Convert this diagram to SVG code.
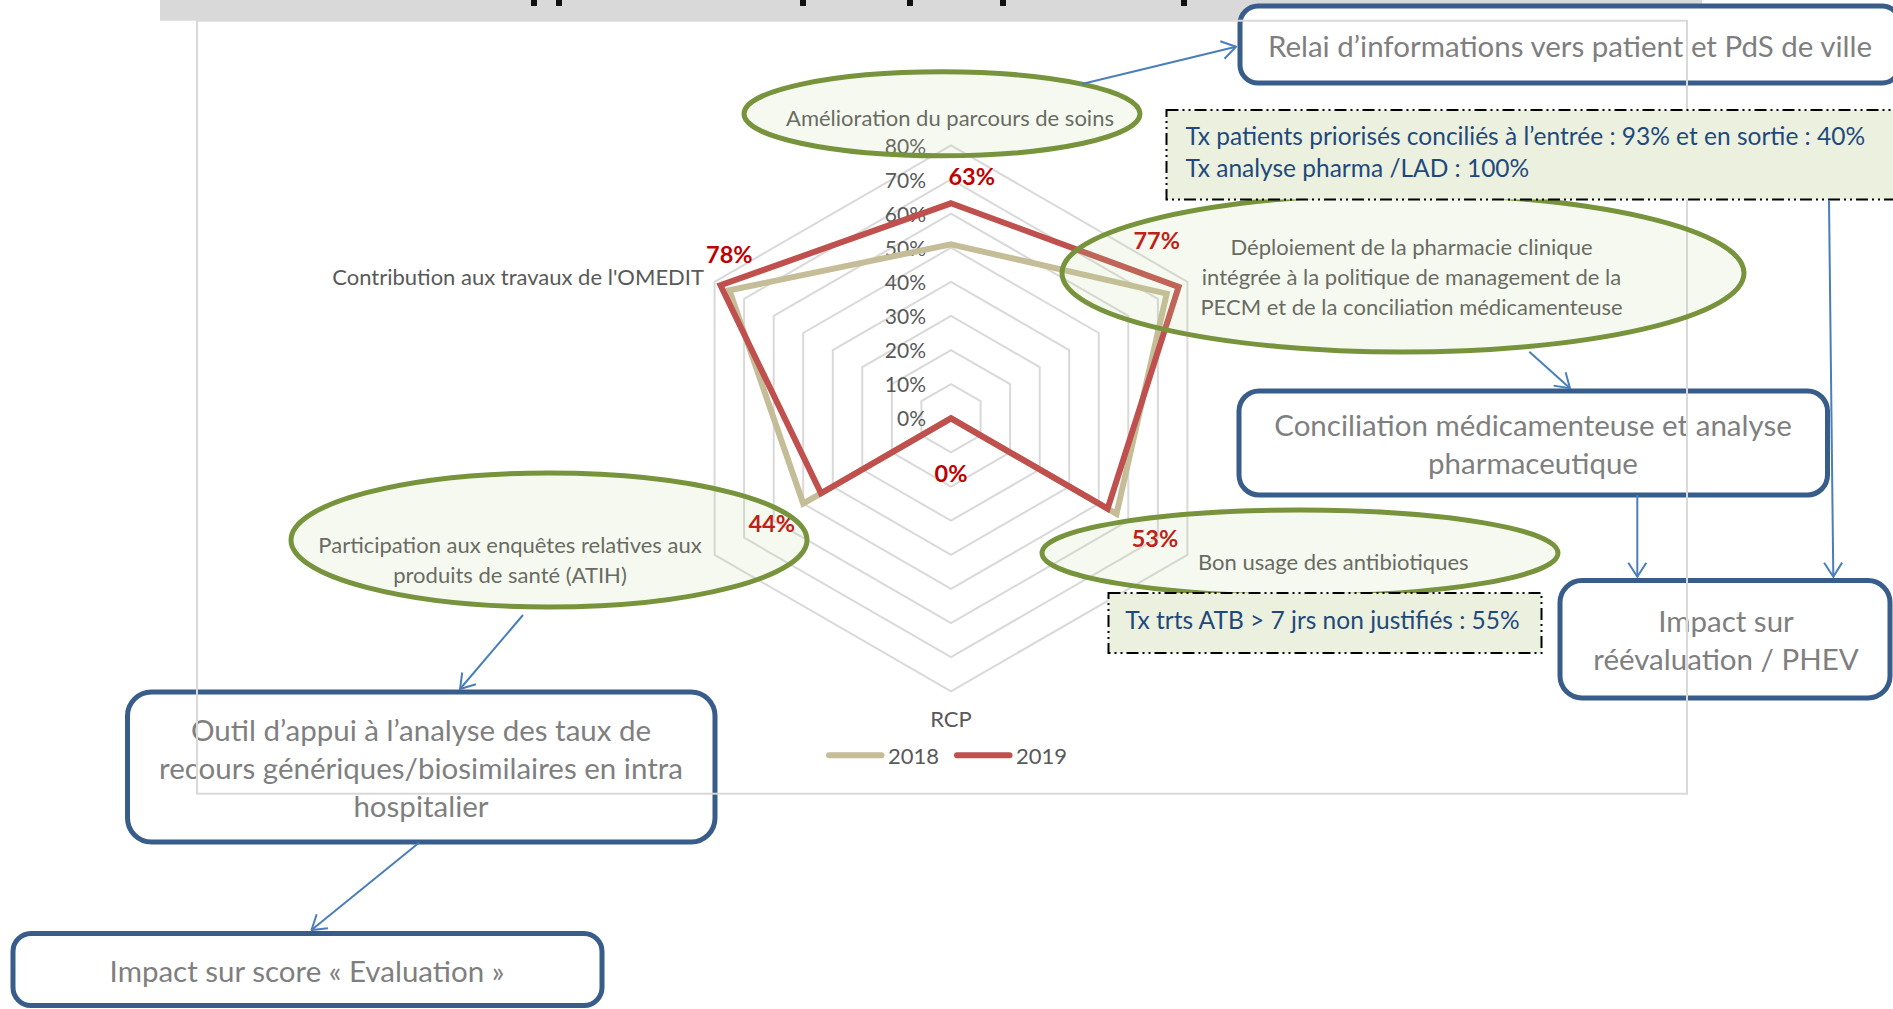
<svg xmlns="http://www.w3.org/2000/svg" width="1893" height="1009" viewBox="0 0 1893 1009">
<style>
.box{fill:#FFFFFF;stroke:#385D8A;stroke-width:5}
.boxt{font-family:Lato,"Liberation Sans",sans-serif;font-size:29.5px;fill:#7F7F7F;text-anchor:middle}
.ell{fill:#C3D69B;fill-opacity:0.15;stroke:#77933C;stroke-width:5}
.info{fill:#EBF1DE;stroke:#000000;stroke-width:2;stroke-dasharray:12 4 2 4 2 4}
.infot{font-family:Lato,"Liberation Sans",sans-serif;font-size:24.5px;fill:#1F497D}
.grid{fill:none;stroke:#D9D9D9;stroke-width:2}
.cat{font-family:Lato,"Liberation Sans",sans-serif;font-size:22px;fill:#595959}
.tick{font-family:Lato,"Liberation Sans",sans-serif;font-size:21px;fill:#595959;text-anchor:end}
.dl{font-family:Lato,"Liberation Sans",sans-serif;font-size:23.5px;font-weight:bold;fill:#C00000;text-anchor:middle}
.s18{fill:none;stroke:#C4BD97;stroke-width:6;stroke-linejoin:miter}
.s19{fill:none;stroke:#C0504D;stroke-width:6;stroke-linejoin:miter}
.con{fill:none;stroke:#4A7EBB;stroke-width:2;marker-end:url(#arr)}
</style>
<defs>
<marker id="arr" viewBox="0 0 16 20" refX="15" refY="10" markerWidth="16" markerHeight="20" markerUnits="userSpaceOnUse" orient="auto">
<path d="M1,1 L15,10 L1,19" fill="none" stroke="#4A7EBB" stroke-width="2"/>
</marker>
</defs>
<rect width="1893" height="1009" fill="#FFFFFF"/>
<g id="title-bar">
<rect x="160" y="0" width="1542" height="20.7" fill="#D9D9D9"/>
<g fill="#111111">
<rect x="531" y="0" width="6" height="6"/>
<rect x="556" y="0" width="6" height="6"/>
<rect x="800" y="0" width="6" height="6"/>
<rect x="907" y="0" width="6" height="6"/>
<rect x="1000" y="0" width="6" height="6"/>
<rect x="1181" y="0" width="6" height="6"/>
</g>
</g>
<g id="node-relai">
<rect class="box" x="1240" y="6" width="660" height="77" rx="18"/>
<text class="boxt" x="1570" y="57">Relai d’informations vers patient et PdS de ville</text>
</g>
<g id="node-conciliation">
<rect class="box" x="1239" y="391" width="588.5" height="104" rx="20"/>
<text class="boxt" x="1533" y="435.5">Conciliation médicamenteuse et analyse</text>
<text class="boxt" x="1533" y="474">pharmaceutique</text>
</g>
<g id="node-phev">
<rect class="box" x="1560" y="580.5" width="330" height="117.5" rx="22"/>
<text class="boxt" x="1726" y="632">Impact sur</text>
<text class="boxt" x="1726" y="670">réévaluation / PHEV</text>
</g>
<g id="node-outil">
<rect class="box" x="127.5" y="692" width="587.5" height="150" rx="24"/>
<text class="boxt" x="421" y="740.5">Outil d’appui à l’analyse des taux de</text>
<text class="boxt" x="421" y="779">recours génériques/biosimilaires en intra</text>
<text class="boxt" x="421" y="817">hospitalier</text>
</g>
<g id="node-score">
<rect class="box" x="13" y="933.5" width="589" height="72" rx="18"/>
<text class="boxt" x="307" y="981.5">Impact sur score « Evaluation »</text>
</g>
<g id="radar-chart">
<rect x="197" y="20.7" width="1490" height="773" fill="none" stroke="#D9D9D9" stroke-width="2"/>
<polygon class="grid" points="951,384.2 980.6,401.2 980.6,435.4 951,452.4 921.4,435.4 921.4,401.2"/>
<polygon class="grid" points="951,350.1 1010.1,384.2 1010.1,452.4 951,486.6 891.9,452.4 891.9,384.2"/>
<polygon class="grid" points="951,315.9 1039.7,367.1 1039.7,469.5 951,520.7 862.3,469.5 862.3,367.1"/>
<polygon class="grid" points="951,281.8 1069.2,350.1 1069.2,486.6 951,554.8 832.8,486.6 832.8,350.1"/>
<polygon class="grid" points="951,247.7 1098.8,333 1098.8,503.6 951,588.9 803.2,503.6 803.2,333"/>
<polygon class="grid" points="951,213.6 1128.3,315.9 1128.3,520.7 951,623.1 773.7,520.7 773.7,315.9"/>
<polygon class="grid" points="951,179.4 1157.9,298.9 1157.9,537.7 951,657.2 744.1,537.7 744.1,298.9"/>
<polygon class="grid" points="951,145.3 1187.4,281.8 1187.4,554.8 951,691.3 714.6,554.8 714.6,281.8"/>
<text class="tick" x="926" y="153.5">80%</text>
<text class="tick" x="926" y="187.5">70%</text>
<text class="tick" x="926" y="221.5">60%</text>
<text class="tick" x="926" y="255.5">50%</text>
<text class="tick" x="926" y="289.5">40%</text>
<text class="tick" x="926" y="323.5">30%</text>
<text class="tick" x="926" y="358">20%</text>
<text class="tick" x="926" y="392">10%</text>
<text class="tick" x="926" y="426">0%</text>
<polygon class="s18" points="951,244.3 1166.7,293.7 1116.5,513.8 951,418.3 803.2,503.6 729.4,290.3"/>
<polygon class="s19" points="951,203.3 1178.6,286.9 1107.6,508.7 951,418.3 821,493.4 720.5,285.2"/>
<text class="dl" x="971.7" y="185">63%</text>
<text class="dl" x="1156.7" y="248.5">77%</text>
<text class="dl" x="729.3" y="262.5">78%</text>
<text class="dl" x="771.7" y="531.5">44%</text>
<text class="dl" x="951" y="481.5">0%</text>
<text class="dl" x="1155" y="546.5">53%</text>
<text class="cat" x="950" y="126" text-anchor="middle">Amélioration du parcours de soins</text>
<text class="cat" x="704" y="285" text-anchor="end">Contribution aux travaux de l'OMEDIT</text>
<text class="cat" x="1411.5" y="255" text-anchor="middle">Déploiement de la pharmacie clinique</text>
<text class="cat" x="1411.5" y="285" text-anchor="middle">intégrée à la politique de management de la</text>
<text class="cat" x="1411.5" y="314.5" text-anchor="middle">PECM et de la conciliation médicamenteuse</text>
<text class="cat" x="1198" y="570">Bon usage des antibiotiques</text>
<text class="cat" x="951" y="727" text-anchor="middle">RCP</text>
<text class="cat" x="510" y="553" text-anchor="middle">Participation aux enquêtes relatives aux</text>
<text class="cat" x="510" y="583" text-anchor="middle">produits de santé (ATIH)</text>
<line x1="829" y1="755.3" x2="881.5" y2="755.3" stroke="#C4BD97" stroke-width="6" stroke-linecap="round"/>
<text class="cat" x="888" y="763.5">2018</text>
<line x1="957" y1="755.3" x2="1009.5" y2="755.3" stroke="#C0504D" stroke-width="6" stroke-linecap="round"/>
<text class="cat" x="1016" y="763.5">2019</text>
</g>
<g id="ellipse-amelioration"><ellipse class="ell" cx="942" cy="113.8" rx="198" ry="42"/></g>
<g id="ellipse-deploiement"><ellipse class="ell" cx="1403" cy="273" rx="341" ry="79"/></g>
<g id="ellipse-bon-usage"><ellipse class="ell" cx="1300" cy="553" rx="258" ry="43"/></g>
<g id="ellipse-participation"><ellipse class="ell" cx="549" cy="540" rx="258" ry="67"/></g>
<g id="info-conciliation">
<rect class="info" x="1166.5" y="110" width="740" height="89.5"/>
<text class="infot" x="1185.5" y="145">Tx patients priorisés conciliés à l’entrée : 93% et en sortie : 40%</text>
<text class="infot" x="1185.5" y="177">Tx analyse pharma /LAD : 100%</text>
</g>
<g id="info-atb">
<rect class="info" x="1108.5" y="593" width="433" height="60"/>
<text class="infot" x="1322.5" y="628.5" text-anchor="middle">Tx trts ATB &gt; 7 jrs non justifiés : 55%</text>
</g>
<g id="connectors">
<line class="con" x1="1082" y1="84" x2="1236" y2="46.7"/>
<line class="con" x1="1529.3" y1="351.7" x2="1570" y2="388.3"/>
<line class="con" x1="1829" y1="200" x2="1833.3" y2="576.7"/>
<line class="con" x1="1637.3" y1="495" x2="1637.3" y2="576.7"/>
<line class="con" x1="523" y1="615" x2="460" y2="689"/>
<line class="con" x1="419" y1="842.7" x2="311.5" y2="930"/>
</g>
</svg>
